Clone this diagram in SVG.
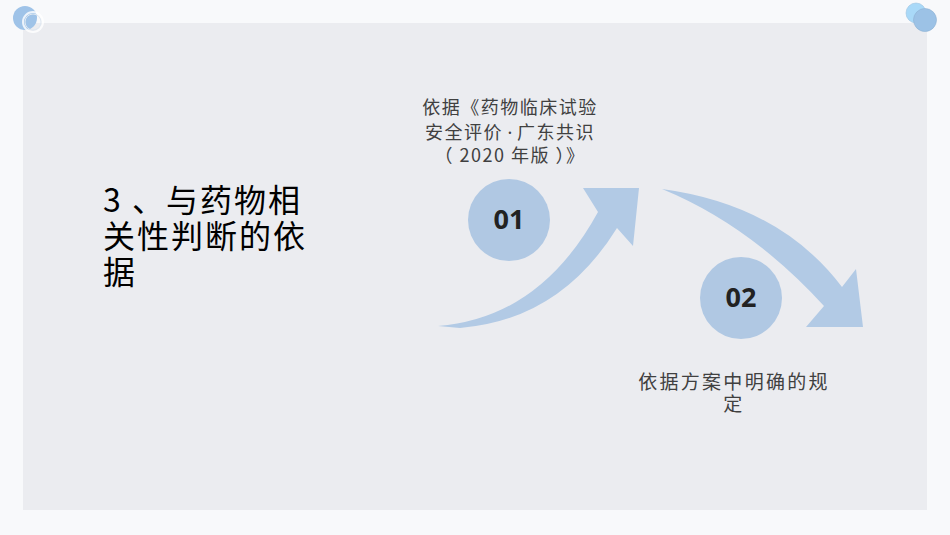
<svg xmlns="http://www.w3.org/2000/svg" width="950" height="535" viewBox="0 0 950 535">
<style>
.cjk{font-family:"Noto Sans CJK SC","Noto Sans",sans-serif;}
.lbl{fill:#404040;font-size:18px;letter-spacing:1.5px;text-anchor:middle;}
.lbl2{fill:#404040;font-size:19px;letter-spacing:2.3px;text-anchor:middle;}
.num{font-family:"Open Sans","Noto Sans",sans-serif;font-weight:bold;font-size:27px;fill:#222;text-anchor:middle;}
.arrow{fill:#b2cae5;}
.bubble{fill:#b0c8e3;}
</style>
<rect width="950" height="535" fill="#f8f9fb"/>
<rect x="23" y="23" width="904" height="487" fill="#ebecf0"/>
<g id="decor">
<circle cx="25" cy="18" r="12" fill="#9fc3e8"/>
<circle cx="33" cy="22" r="10" fill="none" stroke="#ffffff" stroke-width="2" opacity="0.8"/>
<circle cx="33" cy="22" r="8" fill="none" stroke="#dfe8f2" stroke-width="1"/>
<circle cx="916" cy="13" r="10" fill="#a9d9f8" stroke="#9cc3e0" stroke-width="0.6"/>
<circle cx="925" cy="20" r="11.5" fill="#9cc2e6" stroke="#8fb2d4" stroke-width="0.6"/>
</g>
<g id="title">
<text class="cjk" font-size="32" letter-spacing="2" fill="#000" x="103" y="212">3 、与药物相</text>
<text class="cjk" font-size="32" letter-spacing="2" fill="#000" x="103" y="248">关性判断的依</text>
<text class="cjk" font-size="32" letter-spacing="2" fill="#000" x="103" y="284">据</text>
</g>
<g id="connectors">
<path class="arrow" d="M438,326 Q540,318 598,212 L583,188 L639,188 L633,246 L617,228 Q560,320 460,328 Z"/>
<path class="arrow" d="M662,189 Q780,205 842,287 L856,269 L863,327 L806,327 L824,306 Q750,225 662,189 Z"/>
</g>
<g id="node01">
<circle class="bubble" cx="509" cy="220" r="41"/>
<text class="num" x="509" y="229">01</text>
</g>
<g id="node02">
<circle class="bubble" cx="741" cy="298" r="41"/>
<text class="num" x="741" y="307">02</text>
</g>
<g id="label01">
<text class="cjk lbl" x="510" y="114">依据《药物临床试验</text>
<text class="cjk lbl" x="510" y="139">安全评价<tspan font-family="Noto Sans, sans-serif" letter-spacing="0"> · </tspan>广东共识</text>
<text class="cjk lbl" x="510" y="162">（ 2020 年版 ）》</text>
</g>
<g id="label02">
<text class="cjk lbl2" x="734" y="389">依据方案中明确的规</text>
<text class="cjk lbl2" x="734" y="411">定</text>
</g>
</svg>
